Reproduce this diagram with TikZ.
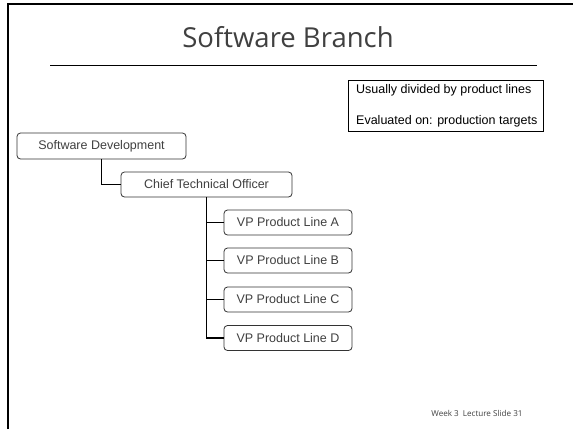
\documentclass[tikz,border=0pt]{standalone}
\usepackage{fontspec}
\setmainfont{Liberation Sans}
\newfontfamily\titlefont{Open Sans}
\usetikzlibrary{positioning}
\definecolor{txtgray}{HTML}{404040}
\definecolor{boxgray}{HTML}{333333}
\tikzset{
  orgbox/.style={draw=boxgray, line width=0.8pt, rounded corners=3.5pt, fill=white,
    text=txtgray, font=\fontsize{12.5}{14}\selectfont, inner sep=0pt, anchor=center},
  link/.style={draw=black, line width=1.8pt},
  notetext/.style={anchor=west, font=\fontsize{12.5}{14}\selectfont, text=black, inner sep=0pt},
}
\begin{document}
\begin{tikzpicture}[x=1pt,y=-1pt]
\useasboundingbox (0,0) rectangle (573,429);
\fill[white] (0,0) rectangle (573,429);
% slide frame
\draw[line width=2.5pt, black] (8,429) -- (8,4) -- (573,4);
% title
\node[font=\titlefont\fontsize{27.5}{32}\selectfont, text=txtgray, anchor=base] (title) at (288,47) {Software Branch};
\draw[line width=1pt, black] (50,65) coordinate (r1) -- (537,65) coordinate (r2);
% note box
\node[draw=black, line width=0.8pt, minimum width=195pt, minimum height=51pt, inner sep=0pt, anchor=north west] (note) at (348,80) {};
\node[notetext] (n1) at (356,90) {Usually divided by product lines};
\node[notetext] (n2) at (356,121.5) {Evaluated on: production targets};
% org boxes
\node[orgbox, minimum width=169pt, minimum height=26pt] (sd) at (101.5,146) {Software Development};
\node[orgbox, minimum width=171pt, minimum height=25pt] (cto) at (206.5,184.5) {Chief Technical Officer};
\node[orgbox, minimum width=128pt, minimum height=25pt] (a) at (288,222.5) {VP Product Line A};
\node[orgbox, minimum width=128pt, minimum height=25pt] (b) at (288,260.5) {VP Product Line B};
\node[orgbox, minimum width=128pt, minimum height=25pt] (c) at (288,299.5) {VP Product Line C};
\node[orgbox, minimum width=128pt, minimum height=25pt] (d) at (288,338) {VP Product Line D};
% connectors
\draw[link] (sd.south) -- (sd.south |- cto.west) -- (cto.west);
\draw[link] (cto.south) -- (cto.south |- d.west) -- (d.west);
\draw[link] (cto.south |- a.west) -- (a.west);
\draw[link] (cto.south |- b.west) -- (b.west);
\draw[link] (cto.south |- c.west) -- (c.west);
% footer
\node[font=\titlefont\fontsize{8.1}{9}\selectfont, text=txtgray, anchor=base] (foot) at (477,416) {Week 3\enspace Lecture Slide 31};
\end{tikzpicture}
\end{document}
